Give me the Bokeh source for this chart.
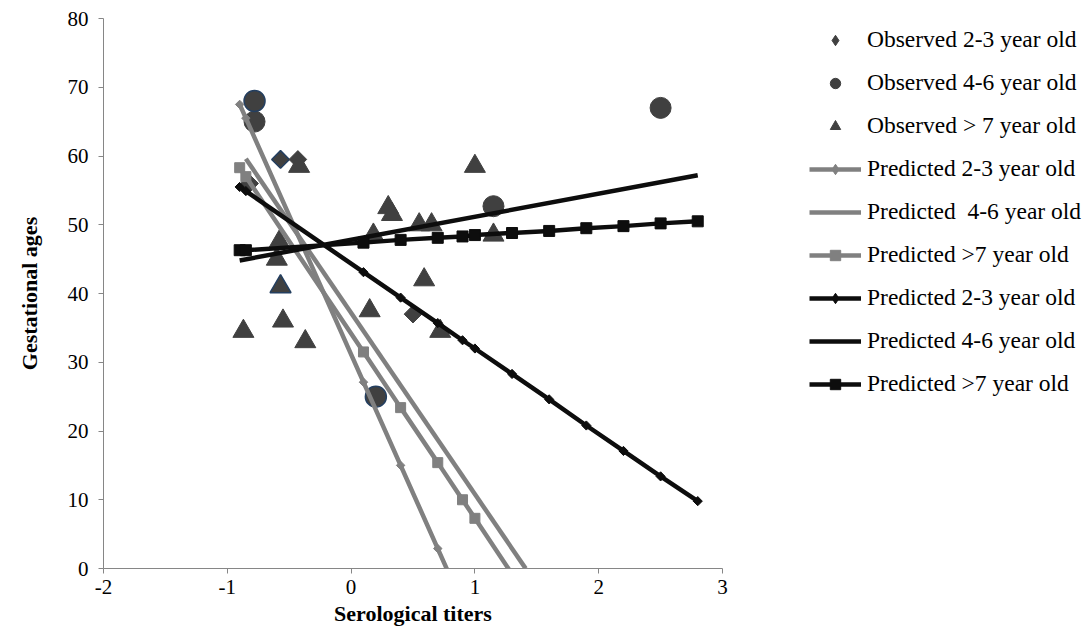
import math
from bokeh.plotting import figure
from bokeh.models import Legend, LegendItem, FixedTicker, Range1d, ColumnDataSource
from bokeh.embed import file_html
from bokeh.resources import INLINE

# ---- data ----
obs23_x = [-0.82, -0.57, -0.43, 0.50]
obs23_y = [56.0, 59.5, 59.5, 37.0]

obs46_x = [-0.78, -0.78, 0.20, 1.15, 2.50]
obs46_y = [65.0, 68.0, 25.0, 52.7, 67.0]

obs7_x = [-0.87, -0.60, -0.58, -0.57, -0.55, -0.37, -0.42, 0.15, 0.18, 0.30, 0.33, 0.55, 0.59, 0.65, 0.72, 1.00, 1.15]
obs7_y = [34.5, 45.0, 47.5, 41.0, 36.0, 33.0, 58.5, 37.5, 48.5, 52.5, 51.5, 50.0, 42.0, 50.0, 34.5, 58.5, 48.5]

pred_x = [-0.90, -0.85, 0.10, 0.40, 0.70, 0.90, 1.00, 1.30, 1.60, 1.90, 2.20, 2.50, 2.80]

g23_x = [-0.90, -0.85, 0.10, 0.40, 0.70, 0.90]
g23_y = [67.5, 65.5, 27.1, 15.0, 2.9, -5.2]

g46_x = [-0.85, 1.41]
g46_y = [59.6, 0.0]

g7_x = [-0.90, -0.85, 0.10, 0.40, 0.70, 0.90, 1.00, 1.30]
g7_y = [58.3, 57.0, 31.5, 23.4, 15.4, 10.0, 7.3, -0.8]

b23_y = [55.5, 54.9, 43.1, 39.4, 35.7, 33.2, 32.0, 28.3, 24.6, 20.8, 17.1, 13.4, 9.8]

b46_x = [-0.90, 2.80]
b46_y = [44.8, 57.2]

b7_y = [46.3, 46.3, 47.4, 47.8, 48.1, 48.3, 48.5, 48.8, 49.1, 49.5, 49.8, 50.2, 50.5]

x_ticks = [-2, -1, 0, 1, 2, 3]
y_ticks = [0, 10, 20, 30, 40, 50, 60, 70, 80]

labels = ["Observed 2-3 year old", "Observed 4-6 year old", "Observed > 7 year old",
          "Predicted 2-3 year old", "Predicted  4-6 year old", "Predicted >7 year old",
          "Predicted 2-3 year old", "Predicted 4-6 year old", "Predicted >7 year old"]

# highlighted (outlined) observed points, by index
hl23 = [1]
hl46 = [1, 2]
hl7 = [3]

FONT = "Liberation Serif"
DARK = "#404040"
OUTL = "#243F60"
GRAY = "#808080"
BLACK = "#0d0d0d"
ROT = math.pi / 4

p = figure(frame_width=619, frame_height=550, x_range=Range1d(-2, 3), y_range=Range1d(0, 80),
           output_backend="svg", toolbar_location=None,
           min_border_left=103, min_border_right=367, min_border_top=18, min_border_bottom=60)
p.grid.visible = False
p.outline_line_color = None
p.background_fill_color = "white"
p.border_fill_color = "white"

for ax, ticks in ((p.xaxis, x_ticks), (p.yaxis, y_ticks)):
    ax.ticker = FixedTicker(ticks=ticks)
    ax.minor_tick_line_color = None
    ax.major_tick_in = 0
    ax.major_tick_out = 5
    ax.axis_line_color = "#868686"
    ax.major_tick_line_color = "#868686"
    ax.major_label_text_font = FONT
    ax.major_label_text_font_size = "21px"
    ax.major_label_text_color = "black"
    ax.axis_label_text_font = FONT
    ax.axis_label_text_font_size = "22px"
    ax.axis_label_text_font_style = "bold"
    ax.axis_label_text_color = "black"

p.xaxis.major_label_overrides = {t: str(t) for t in x_ticks}
p.xaxis.axis_label = "Serological titers"
p.yaxis.axis_label = "Gestational ages"
p.xaxis.major_label_standoff = 6
p.xaxis.axis_label_standoff = 4
p.yaxis.major_label_standoff = 10
p.yaxis.axis_label_standoff = 23


def outlines(n, hl):
    return [OUTL if i in hl else DARK for i in range(n)]


def lw(n, hl):
    return [1.5 if i in hl else 1 for i in range(n)]


s23 = ColumnDataSource(dict(x=obs23_x, y=obs23_y, lc=outlines(len(obs23_x), hl23), lw=lw(len(obs23_x), hl23)))
s46 = ColumnDataSource(dict(x=obs46_x, y=obs46_y, lc=outlines(len(obs46_x), hl46), lw=lw(len(obs46_x), hl46)))
s7 = ColumnDataSource(dict(x=obs7_x, y=obs7_y, lc=outlines(len(obs7_x), hl7), lw=lw(len(obs7_x), hl7)))
sg23 = ColumnDataSource(dict(x=g23_x, y=g23_y))
sb23 = ColumnDataSource(dict(x=pred_x, y=b23_y))

# narrow "diamond" glyphs drawn first (hidden beneath the rotated squares); used for the legend
r_lo23 = p.scatter("x", "y", source=s23, marker="diamond", size=12, color=DARK)
r_o23 = p.scatter("x", "y", source=s23, marker="square", angle=ROT, size=12.5, fill_color=DARK, line_color="lc", line_width="lw")
r_o46 = p.scatter("x", "y", source=s46, marker="circle", size=21, fill_color=DARK, line_color="lc", line_width="lw")
r_o7 = p.scatter("x", "y", source=s7, marker="triangle", size=21, fill_color=DARK, line_color="lc", line_width="lw")

LW = 4.5
r_g23l = p.line("x", "y", source=sg23, line_color=GRAY, line_width=LW)
r_lg23 = p.scatter("x", "y", source=sg23, marker="diamond", size=5, color=GRAY)
r_g23m = p.scatter("x", "y", source=sg23, marker="square", angle=ROT, size=6, color=GRAY)
r_g46l = p.line(g46_x, g46_y, line_color=GRAY, line_width=LW)
r_g7l = p.line(g7_x, g7_y, line_color=GRAY, line_width=LW)
r_g7m = p.scatter(g7_x, g7_y, marker="square", size=10, color=GRAY)

r_b23l = p.line("x", "y", source=sb23, line_color=BLACK, line_width=LW)
r_lb23 = p.scatter("x", "y", source=sb23, marker="diamond", size=5, color=BLACK)
r_b23m = p.scatter("x", "y", source=sb23, marker="square", angle=ROT, size=6.5, color=BLACK)
r_b46l = p.line(b46_x, b46_y, line_color=BLACK, line_width=LW)
r_b7l = p.line(pred_x, b7_y, line_color=BLACK, line_width=LW)
r_b7m = p.scatter(pred_x, b7_y, marker="square", size=11, color=BLACK)

items = [
    LegendItem(label=labels[0], renderers=[r_lo23]),
    LegendItem(label=labels[1], renderers=[r_o46]),
    LegendItem(label=labels[2], renderers=[r_o7]),
    LegendItem(label=labels[3], renderers=[r_g23l, r_lg23]),
    LegendItem(label=labels[4], renderers=[r_g46l]),
    LegendItem(label=labels[5], renderers=[r_g7l, r_g7m]),
    LegendItem(label=labels[6], renderers=[r_b23l, r_lb23]),
    LegendItem(label=labels[7], renderers=[r_b46l]),
    LegendItem(label=labels[8], renderers=[r_b7l, r_b7m]),
]
legend = Legend(items=items, location=(87, 171), glyph_width=52, glyph_height=26,
                label_height=21, spacing=16, padding=5, margin=0, label_standoff=6,
                label_text_font=FONT, label_text_font_size="23.5px", label_text_color="black",
                background_fill_alpha=0, border_line_color=None)
p.add_layout(legend, "right")

open("out.html", "w").write(file_html(p, INLINE))
